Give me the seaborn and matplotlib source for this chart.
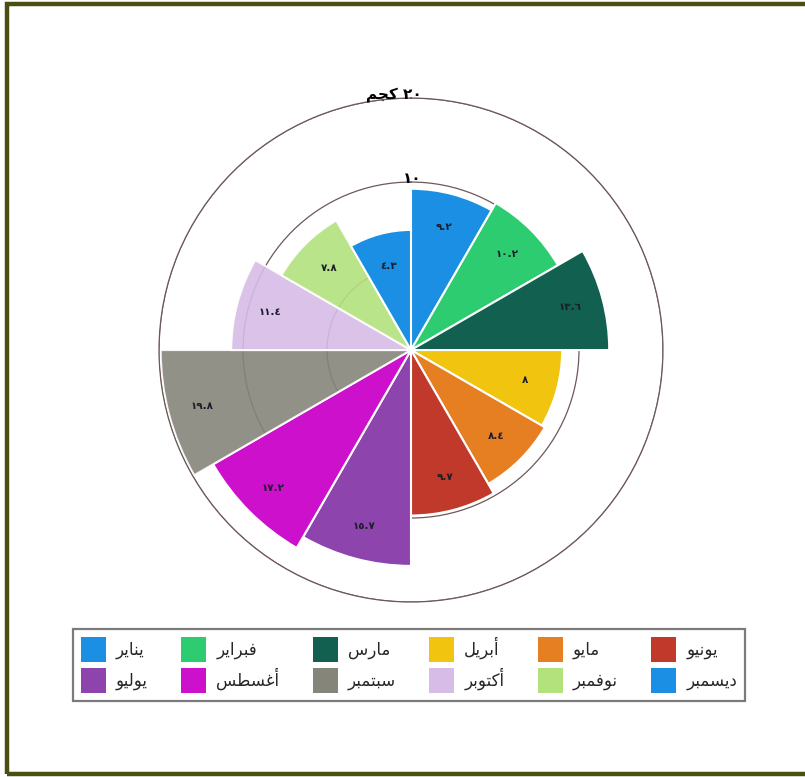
#!/usr/bin/python3
# polar area (rose) chart of monthly values, arabic labels
import numpy as np
import seaborn as sns
import matplotlib.pyplot as plt
from matplotlib.patches import Patch, Rectangle

# data
months = ["يناير", "فبراير", "مارس", "أبريل", "مايو", "يونيو",
          "يوليو", "أغسطس", "سبتمبر", "أكتوبر", "نوفمبر", "ديسمبر"]
values = [9.2, 10.2, 13.6, 8, 8.4, 9.7, 15.7, 17.2, 19.8, 11.4, 7.8, 4.3]
colors = ["#1a8fe3", "#2ecc71", "#12604f", "#f1c40f", "#e67e22", "#c0392b",
          "#8e44ad", "#cc10cc", "#85857a", "#d6bce6", "#b3e27c", "#1a8fe3"]
ring_ticks = [0, 10, 20]
ring_labels = {10: "١٠", 20: "٢٠ كجم"}
unit = "كجم"

# arabic contextual forms (isolated, final, initial, medial); 2-tuple = no left join
FORMS = {
    "ا": ("\uFE8D", "\uFE8E"), "أ": ("\uFE83", "\uFE84"),
    "ب": ("\uFE8F", "\uFE90", "\uFE91", "\uFE92"),
    "ت": ("\uFE95", "\uFE96", "\uFE97", "\uFE98"),
    "ج": ("\uFE9D", "\uFE9E", "\uFE9F", "\uFEA0"),
    "د": ("\uFEA9", "\uFEAA"), "ر": ("\uFEAD", "\uFEAE"),
    "س": ("\uFEB1", "\uFEB2", "\uFEB3", "\uFEB4"),
    "ط": ("\uFEC1", "\uFEC2", "\uFEC3", "\uFEC4"),
    "غ": ("\uFECD", "\uFECE", "\uFECF", "\uFED0"),
    "ف": ("\uFED1", "\uFED2", "\uFED3", "\uFED4"),
    "ك": ("\uFED9", "\uFEDA", "\uFEDB", "\uFEDC"),
    "ل": ("\uFEDD", "\uFEDE", "\uFEDF", "\uFEE0"),
    "م": ("\uFEE1", "\uFEE2", "\uFEE3", "\uFEE4"),
    "ن": ("\uFEE5", "\uFEE6", "\uFEE7", "\uFEE8"),
    "و": ("\uFEED", "\uFEEE"),
    "ي": ("\uFEF1", "\uFEF2", "\uFEF3", "\uFEF4"),
}


def shape(word):
    out = []
    for i, c in enumerate(word):
        f = FORMS.get(c)
        if f is None:
            out.append(c)
            continue
        prev = word[i - 1] if i > 0 else None
        nxt = word[i + 1] if i < len(word) - 1 else None
        joins_prev = prev in FORMS and len(FORMS[prev]) == 4
        joins_next = len(f) == 4 and nxt in FORMS
        if joins_prev and joins_next:
            out.append(f[3])
        elif joins_prev:
            out.append(f[1])
        elif joins_next:
            out.append(f[2])
        else:
            out.append(f[0])
    return "".join(reversed(out))


def ar_num(v):
    return f"{v:g}".translate(str.maketrans("0123456789", "٠١٢٣٤٥٦٧٨٩"))


sns.set_theme(style="white")
plt.rcParams["font.family"] = ["DejaVu Sans"]

fig = plt.figure(figsize=(8.05, 7.77), dpi=100)
fig.patch.set_facecolor("white")
fig.patches.append(Rectangle((7 / 805, 3 / 777), 1.0, 770 / 777, transform=fig.transFigure,
                             fill=False, edgecolor="#4b5012", linewidth=3.2))

ax = fig.add_axes([0.1975, 0.2252, 0.6261, 0.6486], projection="polar")
ax.set_theta_zero_location("N")
ax.set_theta_direction(-1)

n = len(values)
width = 2 * np.pi / n
theta = np.arange(n) * width + width / 2
base = -10
vals = np.array(values, dtype=float)
bars = ax.bar(theta, vals - base, width=width, bottom=base, color=colors,
              edgecolor="white", linewidth=1.5, zorder=2)
for i in (8, 9, 10):
    bars.patches[i].set_alpha(0.9)

ax.set_rlim(base, 20)
ax.set_rticks(ring_ticks)
ax.set_yticklabels([])
ax.set_xticks([])
ax.set_axisbelow(True)
ax.grid(True, color="#6e5858", linewidth=0.9)
ax.xaxis.grid(False)
ax.spines["polar"].set_color("#6e5858")
ax.spines["polar"].set_linewidth(0.9)
ax.set_facecolor("white")

# value labels
for t, v in zip(theta, vals):
    ax.text(t, v - 4, ar_num(v), ha="center", va="center", fontsize=7.5,
            fontweight="bold", color="#1c1c2a", zorder=4)

# ring labels
for r, lab in ring_labels.items():
    txt = ar_num(r)
    if unit in lab:
        txt = shape(unit) + " " + txt
    ax.annotate(txt, (0, r), xytext=(7.5, -3), textcoords="offset points",
                ha="right", va="bottom", fontsize=11, fontweight="bold",
                color="black", annotation_clip=False, zorder=5)

# legend, row-major order in 6 columns
handles = [Patch(facecolor=c, edgecolor="none") for c in colors]
labels = [shape(m) for m in months]
order = [i + 6 * r for i in range(6) for r in range(2)]
leg = fig.legend([handles[i] for i in order], [labels[i] for i in order],
                 ncol=6, loc="center", bbox_to_anchor=(0.5081, 0.1441),
                 fontsize=12, handlelength=1.5, handleheight=1.9,
                 columnspacing=2.0, handletextpad=0.6, labelspacing=0.35,
                 frameon=True, fancybox=False, borderpad=0.5)
leg.get_frame().set_edgecolor("#5a5a5a")
leg.get_frame().set_linewidth(1.6)

plt.savefig("out.png", dpi=100, facecolor="white")
